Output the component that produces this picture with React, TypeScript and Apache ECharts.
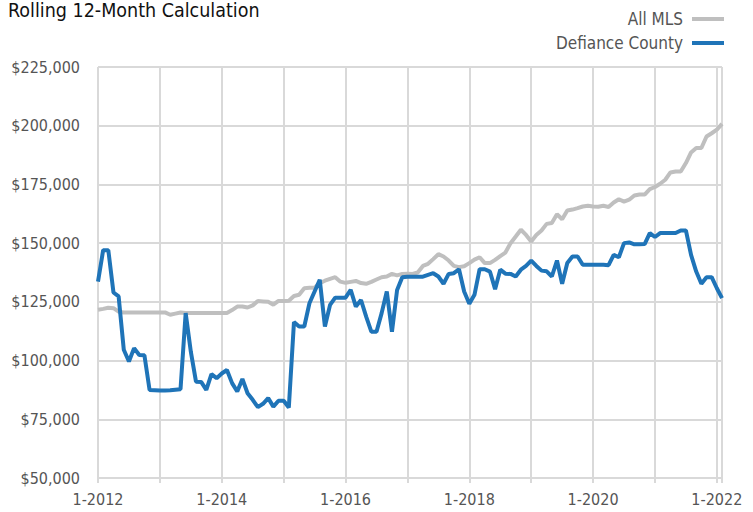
import React, { useEffect, useRef } from "react";
import * as echarts from "echarts";

const startYear = 2012;
const yTicks = [50000, 75000, 100000, 125000, 150000, 175000, 200000, 225000];

const allMls = [
  121.6, 122, 122.5, 122.3, 120.8, 120.5, 120.5, 120.5, 120.5, 120.5,
  120.5, 120.5, 120.5, 120.5, 119.5, 120, 120.5, 120.3, 120.3, 120.3,
  120.3, 120.3, 120.3, 120.3, 120.3, 120.3, 121.5, 123, 123, 122.6,
  123.5, 125.4, 125.2, 125, 123.8, 125.4, 125.4, 125.5, 127.5, 128,
  130.8, 131, 131, 133, 134, 134.8, 135.5, 133.6, 133.1, 133.5,
  133.9, 133, 132.7, 133.5, 134.5, 135.5, 135.8, 136.9, 136.3, 136.9,
  137, 136.9, 137.5, 140.3, 141.2, 143.2, 145.3, 144.3, 142.6, 140.3,
  139.8, 140.2, 141.5, 143, 144, 141.5, 141.5, 142.9, 144.5, 146,
  150, 152.8, 155.7, 153.5, 150.7, 153.5, 155.4, 158.2, 158.6, 162.3,
  160.2, 163.9, 164.3, 164.9, 165.6, 165.9, 165.6, 165.5, 165.9, 165.4,
  167.3, 168.7, 167.7, 168.5, 170.3, 170.7, 170.7, 173, 173.9, 175.3,
  177, 180.1, 180.5, 180.5, 184.1, 188.6, 190.5, 190.5, 195.4, 196.8,
  198.3, 200.8,
];

const defiance = [
  133.6, 147, 147, 129, 127.3, 104.6, 99.6, 105.3, 102.4, 102.3,
  87.5, 87.4, 87.3, 87.3, 87.4, 87.6, 87.8, 120.2, 103.8, 91,
  90.9, 87.5, 94.2, 92.5, 94.5, 96, 90.4, 86.8, 92.2, 86.1,
  83.3, 80.2, 81.6, 84, 80.4, 82.9, 82.9, 80, 116.4, 114.5,
  114.5, 124.4, 129.4, 134.4, 114.5, 123.7, 126.8, 126.8, 126.8, 130.1,
  123, 125.8, 118.7, 112.3, 112.3, 120.2, 129.4, 112.3, 130.1, 135.5,
  135.7, 135.7, 135.7, 135.7, 136.5, 137.2, 135.8, 132.7, 136.9, 137.2,
  138.9, 129.4, 124.2, 128, 138.9, 138.9, 137.9, 130.4, 138.7, 137,
  136.9, 135.8, 138.7, 140.3, 142.6, 140.3, 138.3, 138, 135.8, 142.6,
  132.7, 141.5, 144.3, 144.3, 140.8, 140.8, 140.8, 140.8, 140.8, 140.6,
  145, 144, 150, 150.3, 149.5, 149.5, 149.6, 154.3, 152.6, 154.3,
  154.3, 154.3, 154.3, 155.4, 155.4, 145, 137.9, 132.7, 135.5, 135.5,
  130.8, 126.6,
];

const FONT = "'DejaVu Sans Condensed', 'Liberation Sans Narrow', sans-serif";

export default function App() {
  const ref = useRef<HTMLDivElement>(null);
  useEffect(() => {
    if (!ref.current) return;
    const chart = echarts.init(ref.current, undefined, { renderer: "svg" });
    const toPts = (arr: number[]) => arr.map((v, i) => [i, v * 1000]);
    chart.setOption({
      animation: false,
      graphic: [
        {
          type: "text",
          left: 8,
          top: 0,
          style: {
            text: "Rolling 12-Month Calculation",
            font: `19.5px ${FONT}`,
            fill: "#111",
          },
        },
      ],
      legend: {
        orient: "vertical",
        align: "right",
        right: 24,
        top: 4,
        itemWidth: 32,
        itemHeight: 4,
        itemGap: 4,
        icon: "rect",
        textStyle: {
          fontFamily: FONT,
          fontSize: 17,
          color: "#555",
          lineHeight: 20,
          padding: [0, 4, 0, 0],
        },
        data: ["All MLS", "Defiance County"],
      },
      grid: { left: 98, right: 31, top: 67, bottom: 34, containLabel: false },
      xAxis: {
        type: "value",
        min: 0,
        max: allMls.length - 1,
        interval: 12,
        axisLine: { show: true, lineStyle: { color: "#d9d9d9", width: 2 } },
        axisTick: { show: true, length: 5, lineStyle: { color: "#d9d9d9", width: 2 } },
        splitLine: { show: true, lineStyle: { color: "#d9d9d9", width: 2 } },
        axisLabel: {
          fontFamily: FONT,
          fontSize: 16,
          color: "#555",
          margin: 13,
          showMaxLabel: true,
          formatter: (v: number) =>
            v % 24 === 0 ? `1-${startYear + v / 12}` : "",
        },
      },
      yAxis: {
        type: "value",
        min: yTicks[0],
        max: yTicks[yTicks.length - 1],
        interval: 25000,
        axisLine: { show: false },
        axisTick: { show: false },
        splitLine: { show: true, lineStyle: { color: "#d9d9d9", width: 2 } },
        axisLabel: {
          fontFamily: FONT,
          fontSize: 16,
          color: "#555",
          margin: 18,
          formatter: (v: number) => "$" + v.toLocaleString("en-US"),
        },
      },
      series: [
        {
          name: "All MLS",
          type: "line",
          data: toPts(allMls),
          showSymbol: false,
          symbol: "none",
          color: "#bfbfbf",
          lineStyle: { color: "#bfbfbf", width: 4 },
          z: 2,
        },
        {
          name: "Defiance County",
          type: "line",
          data: toPts(defiance),
          showSymbol: false,
          symbol: "none",
          color: "#1f74b8",
          lineStyle: { color: "#1f74b8", width: 4 },
          z: 3,
        },
      ],
    });
    return () => chart.dispose();
  }, []);
  return <div ref={ref} style={{ width: 753, height: 512, position: "absolute", left: 0, top: 0 }} />;
}
